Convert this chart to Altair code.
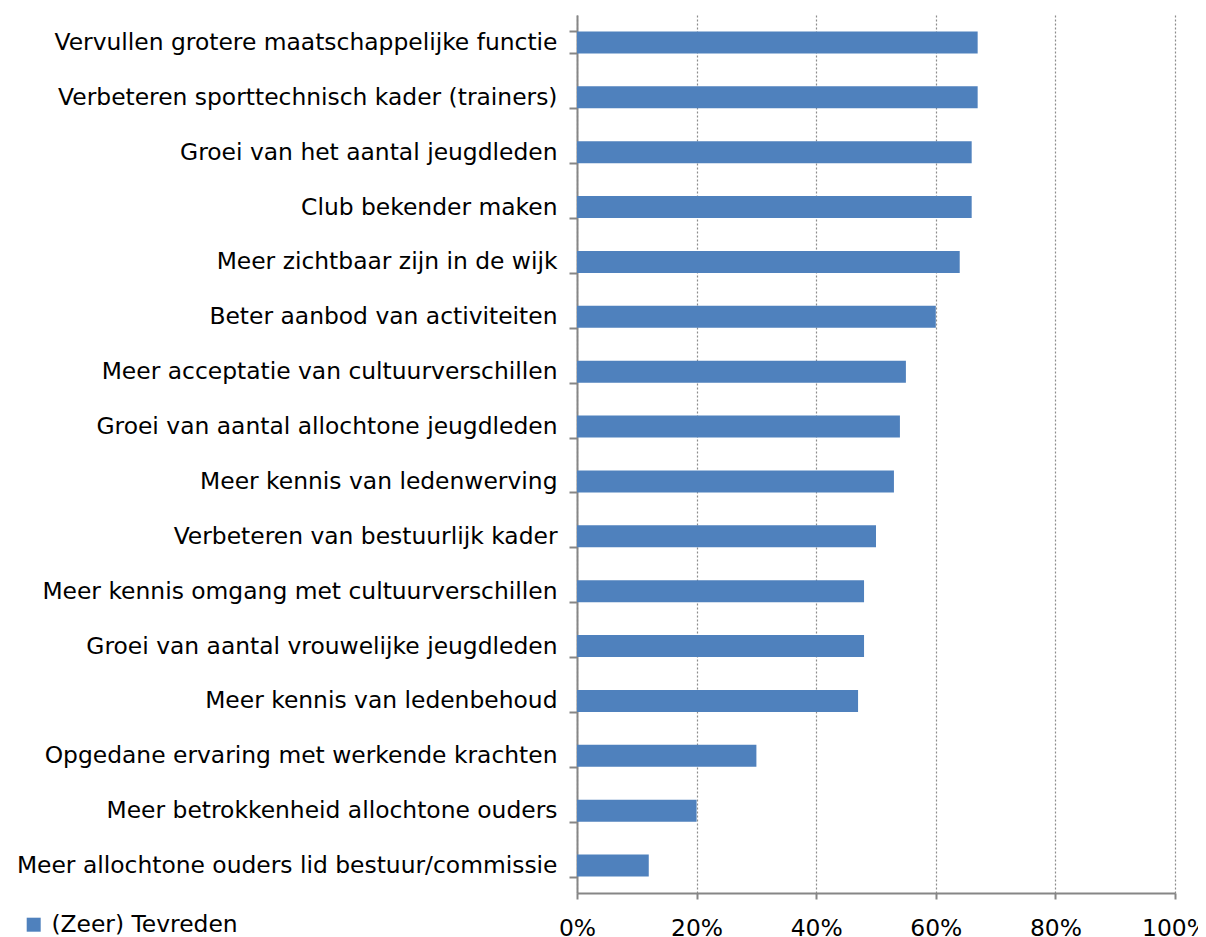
import altair as alt
import pandas as pd

categories = [
    "Vervullen grotere maatschappelijke functie",
    "Verbeteren sporttechnisch kader (trainers)",
    "Groei van het aantal jeugdleden",
    "Club bekender maken",
    "Meer zichtbaar zijn in de wijk",
    "Beter aanbod van activiteiten",
    "Meer acceptatie van cultuurverschillen",
    "Groei van aantal allochtone jeugdleden",
    "Meer kennis van ledenwerving",
    "Verbeteren van bestuurlijk kader",
    "Meer kennis omgang met cultuurverschillen",
    "Groei van aantal vrouwelijke jeugdleden",
    "Meer kennis van ledenbehoud",
    "Opgedane ervaring met werkende krachten",
    "Meer betrokkenheid allochtone ouders",
    "Meer allochtone ouders lid bestuur/commissie",
]
values = [0.67, 0.67, 0.66, 0.66, 0.64, 0.60, 0.55, 0.54, 0.53, 0.50, 0.48, 0.48, 0.47, 0.30, 0.20, 0.12]
series = ["(Zeer) Tevreden"] * len(categories)
x_ticks = [0, 0.2, 0.4, 0.6, 0.8, 1.0]

df = pd.DataFrame({"cat": categories, "val": values, "series": series})

FONT = "DejaVu Sans"
AXIS_GRAY = "#868686"
FS = 23.4

chart = (
    alt.Chart(df)
    .mark_bar(color="#4F81BD")
    .encode(
        x=alt.X(
            "val:Q",
            scale=alt.Scale(domain=[0, 1], nice=False),
            axis=alt.Axis(
                values=x_ticks,
                format=".0%",
                title=None,
                grid=True,
                gridColor="#8c8c8c",
                gridDash=[2, 2],
                gridWidth=1.2,
                domainColor=AXIS_GRAY,
                domainWidth=2,
                tickColor=AXIS_GRAY,
                tickWidth=2,
                tickSize=6,
                labelFont=FONT,
                labelFontSize=FS,
                labelColor="#000000",
                labelPadding=18,
                labelFlush=False,
            ),
        ),
        y=alt.Y(
            "cat:N",
            sort=categories,
            scale=alt.Scale(paddingInner=0.6, paddingOuter=0.3),
            axis=alt.Axis(
                title=None,
                tickBand="extent",
                domainColor=AXIS_GRAY,
                domainWidth=2,
                tickColor=AXIS_GRAY,
                tickWidth=2,
                tickSize=8,
                labelFont=FONT,
                labelFontSize=FS,
                labelColor="#000000",
                labelPadding=12,
                labelLimit=700,
            ),
        ),
        color=alt.Color(
            "series:N",
            scale=alt.Scale(range=["#4F81BD"]),
            legend=alt.Legend(
                title=None,
                orient="none",
                legendX=-555,
                legendY=898,
                symbolType="square",
                symbolSize=196,
                symbolStrokeWidth=0,
                labelFont=FONT,
                labelFontSize=FS,
                labelColor="#000000",
                labelOffset=6,
                labelLimit=400,
                padding=0,
            ),
        ),
    )
    .properties(
        width=598,
        height=878,
        autosize=alt.AutoSizeParams(type="none"),
        padding={"left": 569, "top": 7, "right": 23, "bottom": 44},
    )
    .configure_view(stroke=None)
    .configure_axis(gridOpacity=1)
)

chart.save("out.html", embed_options={"renderer": "svg", "actions": False})
